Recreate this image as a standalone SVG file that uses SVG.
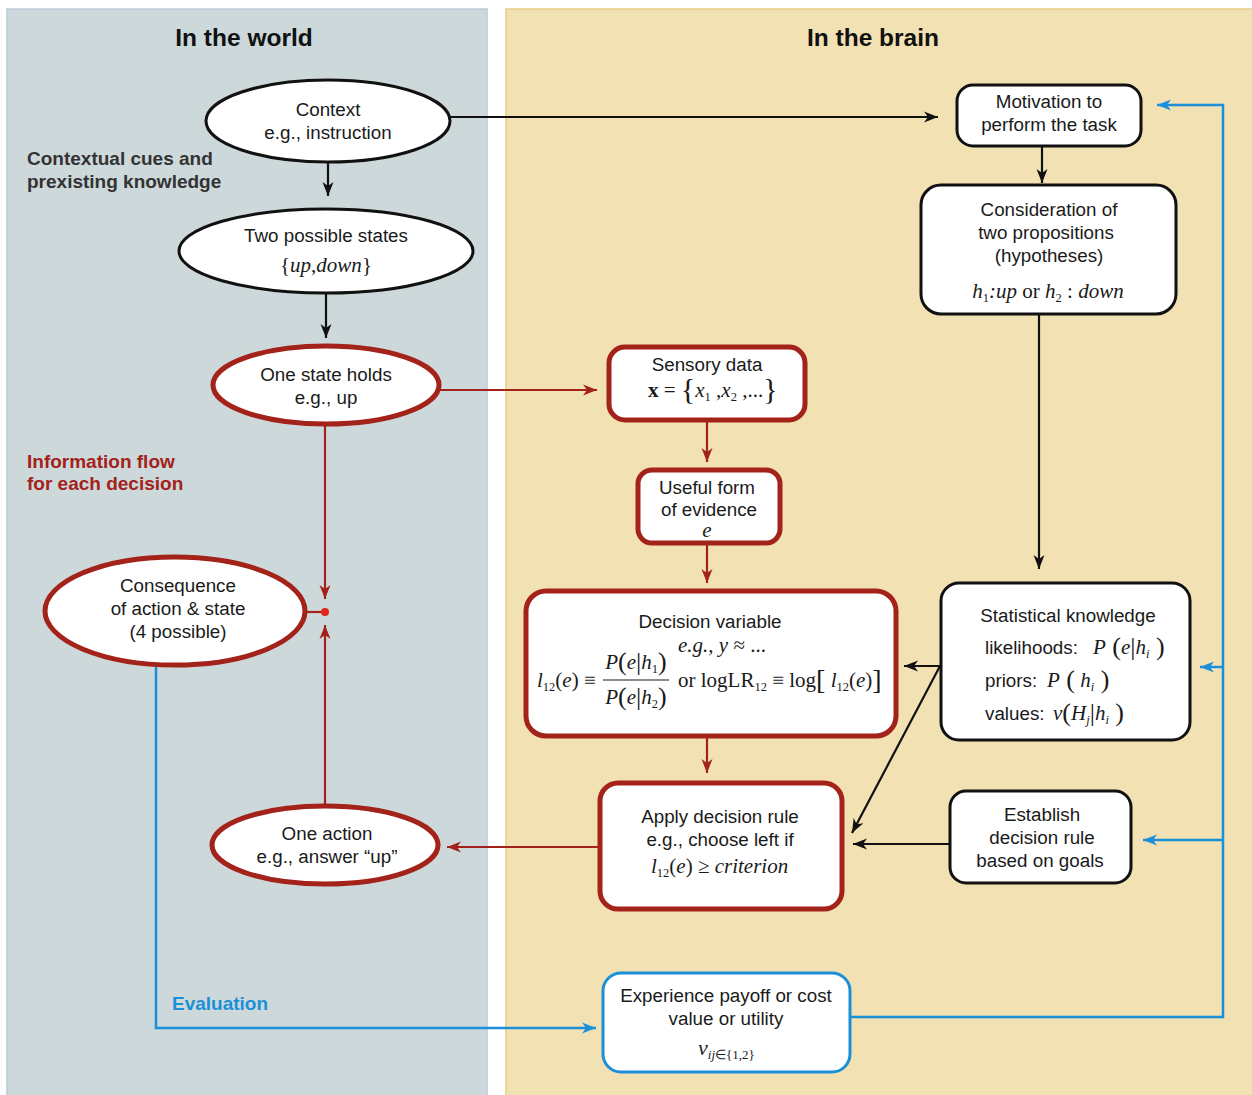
<svg xmlns="http://www.w3.org/2000/svg" width="1252" height="1095" viewBox="0 0 1252 1095">
<defs>
<style>
.t{font-family:"Liberation Sans",Arial,sans-serif;font-size:18.8px;fill:#1a1a1a;text-anchor:middle}
.ts{font-family:"Liberation Sans",Arial,sans-serif;font-size:18.8px;fill:#1a1a1a;text-anchor:start}
.h{font-family:"Liberation Sans",Arial,sans-serif;font-size:24.5px;font-weight:bold;fill:#111;text-anchor:middle}
.lab{font-family:"Liberation Sans",Arial,sans-serif;font-size:19px;font-weight:bold}
.m{font-family:"Liberation Serif","Times New Roman",serif;font-size:21px;fill:#1a1a1a}
.mc{text-anchor:middle}
.i{font-style:italic}
.s{font-size:12.5px}
.bk{fill:#fff;stroke:#111;stroke-width:3}
.rd{fill:#fff;stroke:#a3221a;stroke-width:5}
.bl{fill:#fff;stroke:#1b90d8;stroke-width:3}
.cb{fill:none;stroke:#111;stroke-width:2.2}
.cr{fill:none;stroke:#a3221a;stroke-width:2.2}
.cu{fill:none;stroke:#1b90d8;stroke-width:2.5}
</style>
<marker id="ab" markerUnits="userSpaceOnUse" markerWidth="16" markerHeight="12" refX="14" refY="6" orient="auto"><path d="M0,0.5 L14,6 L0,11.5 L4,6 z" fill="#111"/></marker>
<marker id="ar" markerUnits="userSpaceOnUse" markerWidth="16" markerHeight="12" refX="14" refY="6" orient="auto"><path d="M0,0.5 L14,6 L0,11.5 L4,6 z" fill="#a3221a"/></marker>
<marker id="au" markerUnits="userSpaceOnUse" markerWidth="16" markerHeight="12" refX="14" refY="6" orient="auto"><path d="M0,0.5 L14,6 L0,11.5 L4,6 z" fill="#1b90d8"/></marker>
</defs>
<rect width="1252" height="1095" fill="#fff"/>
<rect x="7" y="9" width="480" height="1090" fill="#cdd8db" stroke="#b8ccd8" stroke-width="1.5"/>
<rect x="506" y="9" width="750" height="1090" fill="#f2e1b3" stroke="#e8cd85" stroke-width="1.5"/>
<text class="h" x="244" y="46">In the world</text>
<text class="h" x="873" y="46">In the brain</text>
<text class="lab" x="27" y="165" fill="#333">Contextual cues and</text>
<text class="lab" x="27" y="188" fill="#333">prexisting knowledge</text>
<text class="lab" x="27" y="468" fill="#a3221a">Information flow</text>
<text class="lab" x="27" y="490" fill="#a3221a">for each decision</text>
<text class="lab" x="172" y="1010" fill="#1b90d8">Evaluation</text>

<g id="connectors">
<line class="cb" x1="450" y1="117" x2="938" y2="117" marker-end="url(#ab)"/>
<line class="cb" x1="328" y1="162" x2="328" y2="196" marker-end="url(#ab)"/>
<line class="cb" x1="326" y1="293" x2="326" y2="338" marker-end="url(#ab)"/>
<line class="cb" x1="1042" y1="146" x2="1042" y2="183" marker-end="url(#ab)"/>
<line class="cb" x1="1039" y1="314" x2="1039" y2="569" marker-end="url(#ab)"/>
<line class="cr" x1="440" y1="390" x2="597" y2="390" marker-end="url(#ar)"/>
<line class="cr" x1="707" y1="420" x2="707" y2="462" marker-end="url(#ar)"/>
<line class="cr" x1="707" y1="543" x2="707" y2="583" marker-end="url(#ar)"/>
<line class="cr" x1="325" y1="424" x2="325" y2="599" marker-end="url(#ar)"/>
<line class="cr" x1="305" y1="612" x2="325" y2="612"/>
<line class="cr" x1="325" y1="806" x2="325" y2="625" marker-end="url(#ar)"/>
<circle cx="325" cy="612" r="4" fill="#e2241e"/>
<line class="cr" x1="707" y1="736" x2="707" y2="773" marker-end="url(#ar)"/>
<line class="cr" x1="600" y1="847" x2="447" y2="847" marker-end="url(#ar)"/>
<line class="cb" x1="940" y1="666" x2="904" y2="666" marker-end="url(#ab)"/>
<line class="cb" x1="940" y1="666" x2="852" y2="833" marker-end="url(#ab)"/>
<line class="cb" x1="950" y1="844" x2="853" y2="844" marker-end="url(#ab)"/>
<polyline class="cu" points="850,1017 1223,1017 1223,105 1157,105" marker-end="url(#au)"/>
<line class="cu" x1="1223" y1="667" x2="1200" y2="667" marker-end="url(#au)"/>
<line class="cu" x1="1223" y1="840" x2="1143" y2="840" marker-end="url(#au)"/>
<polyline class="cu" points="156,665 156,1028 596,1028" marker-end="url(#au)"/>
</g>

<g id="context"><ellipse class="bk" cx="328" cy="121" rx="122" ry="41"/>
<text class="t" x="328" y="116">Context</text><text class="t" x="328" y="139">e.g., instruction</text></g>
<g id="two-states"><ellipse class="bk" cx="326" cy="251" rx="147" ry="42"/>
<text class="t" x="326" y="242">Two possible states</text>
<text class="m mc" x="326" y="272">{<tspan class="i">up</tspan>,<tspan class="i">down</tspan>}</text></g>
<g id="one-state"><ellipse class="rd" cx="326" cy="385" rx="113" ry="39"/>
<text class="t" x="326" y="381">One state holds</text><text class="t" x="326" y="404">e.g., up</text></g>
<g id="consequence"><ellipse class="rd" cx="175" cy="611" rx="130" ry="54"/>
<text class="t" x="178" y="592">Consequence</text><text class="t" x="178" y="615">of action &amp; state</text><text class="t" x="178" y="638">(4 possible)</text></g>
<g id="one-action"><ellipse class="rd" cx="325" cy="845" rx="113" ry="39"/>
<text class="t" x="327" y="840">One action</text><text class="t" x="327" y="863">e.g., answer “up”</text></g>

<g id="motivation"><rect class="bk" x="957" y="85" width="184" height="61" rx="16"/>
<text class="t" x="1049" y="108">Motivation to</text><text class="t" x="1049" y="131">perform the task</text></g>
<g id="consideration"><rect class="bk" x="921" y="185" width="255" height="129" rx="20"/>
<text class="t" x="1049" y="216">Consideration of</text><text class="t" x="1046" y="239">two propositions</text><text class="t" x="1049" y="262">(hypotheses)</text>
<text class="m mc" x="1048" y="298"><tspan class="i">h</tspan><tspan class="s" dy="4">1</tspan><tspan dy="-4" class="i">:up</tspan> or <tspan class="i">h</tspan><tspan class="s" dy="4">2</tspan><tspan dy="-4"> : </tspan><tspan class="i">down</tspan></text></g>
<g id="sensory"><rect class="rd" x="609" y="347" width="196" height="73" rx="16"/>
<text class="t" x="707" y="371">Sensory data</text>
<text class="m" x="648" y="397"><tspan font-weight="bold">x</tspan> = <tspan font-size="30" dy="2">{</tspan><tspan dy="-2" class="i">x</tspan><tspan class="s" dy="4">1</tspan><tspan dy="-4"> ,</tspan><tspan class="i">x</tspan><tspan class="s" dy="4">2</tspan><tspan dy="-4"> ,...</tspan><tspan font-size="30" dy="2">}</tspan></text></g>
<g id="useful"><rect class="rd" x="638" y="470" width="142" height="73" rx="14"/>
<text class="t" x="707" y="494">Useful form</text><text class="t" x="709" y="516">of evidence</text>
<text class="m i mc" x="707" y="537" font-size="19">e</text></g>
<g id="decision-variable"><rect class="rd" x="526" y="591" width="370" height="145" rx="20"/>
<text class="t" x="710" y="628">Decision variable</text>
<text class="m" x="678" y="652"><tspan class="i">e.g., y</tspan> ≈ ...</text>
<text class="m" x="537" y="687"><tspan class="i">l</tspan><tspan class="s" dy="4">12</tspan><tspan dy="-4">(</tspan><tspan class="i">e</tspan>) ≡</text>
<text class="m mc" x="636" y="669"><tspan class="i">P</tspan><tspan font-size="26" dy="1">(</tspan><tspan dy="-1" class="i">e</tspan><tspan font-size="26" dy="1">|</tspan><tspan dy="-1" class="i">h</tspan><tspan class="s" dy="4">1</tspan><tspan font-size="26" dy="-3">)</tspan></text>
<line x1="603" y1="680" x2="669" y2="680" stroke="#1a1a1a" stroke-width="1.2"/>
<text class="m mc" x="636" y="704"><tspan class="i">P</tspan><tspan font-size="26" dy="1">(</tspan><tspan dy="-1" class="i">e</tspan><tspan font-size="26" dy="1">|</tspan><tspan dy="-1" class="i">h</tspan><tspan class="s" dy="4">2</tspan><tspan font-size="26" dy="-3">)</tspan></text>
<text class="m" x="678" y="687">or logLR<tspan class="s" dy="4">12</tspan><tspan dy="-4"> ≡ log</tspan><tspan font-size="28" dy="2">[</tspan><tspan dy="-2" class="i"> l</tspan><tspan class="s" dy="4">12</tspan><tspan dy="-4">(</tspan><tspan class="i">e</tspan>)<tspan font-size="28" dy="2">]</tspan></text></g>
<g id="statistical"><rect class="bk" x="941" y="583" width="249" height="157" rx="18"/>
<text class="t" x="1068" y="622">Statistical knowledge</text>
<text class="ts" x="985" y="654">likelihoods:</text>
<text class="m" x="1093" y="654"><tspan class="i">P</tspan><tspan font-size="26" dy="1"> (</tspan><tspan dy="-1" class="i">e</tspan><tspan font-size="26" dy="1">|</tspan><tspan dy="-1" class="i">h</tspan><tspan class="s i" dy="4">i</tspan><tspan font-size="26" dy="-3"> )</tspan></text>
<text class="ts" x="985" y="687">priors:</text>
<text class="m" x="1047" y="687"><tspan class="i">P</tspan><tspan font-size="26" dy="1"> (</tspan><tspan dy="-1" class="i"> h</tspan><tspan class="s i" dy="4">i</tspan><tspan font-size="26" dy="-3"> )</tspan></text>
<text class="ts" x="985" y="720">values:</text>
<text class="m" x="1053" y="720"><tspan class="i">v</tspan><tspan font-size="26" dy="1">(</tspan><tspan dy="-1" class="i">H</tspan><tspan class="s i" dy="4">j</tspan><tspan font-size="26" dy="-3">|</tspan><tspan dy="-1" class="i">h</tspan><tspan class="s i" dy="4">i</tspan><tspan font-size="26" dy="-3"> )</tspan></text></g>
<g id="apply-rule"><rect class="rd" x="600" y="783" width="242" height="126" rx="18"/>
<text class="t" x="720" y="823">Apply decision rule</text><text class="t" x="720" y="846">e.g., choose left if</text>
<text class="m" x="651" y="873"><tspan class="i">l</tspan><tspan class="s" dy="4">12</tspan><tspan dy="-4">(</tspan><tspan class="i">e</tspan>) ≥ <tspan class="i">criterion</tspan></text></g>
<g id="establish"><rect class="bk" x="950" y="791" width="181" height="92" rx="16"/>
<text class="t" x="1042" y="821">Establish</text><text class="t" x="1042" y="844">decision rule</text><text class="t" x="1040" y="867">based on goals</text></g>
<g id="experience"><rect class="bl" x="603" y="973" width="247" height="99" rx="18"/>
<text class="t" x="726" y="1002">Experience payoff or cost</text><text class="t" x="726" y="1025">value or utility</text>
<text class="m" x="698" y="1055"><tspan class="i" font-size="22">v</tspan><tspan font-size="13" dy="4"><tspan class="i">ij</tspan>∈{1,2}</tspan></text></g>
</svg>
